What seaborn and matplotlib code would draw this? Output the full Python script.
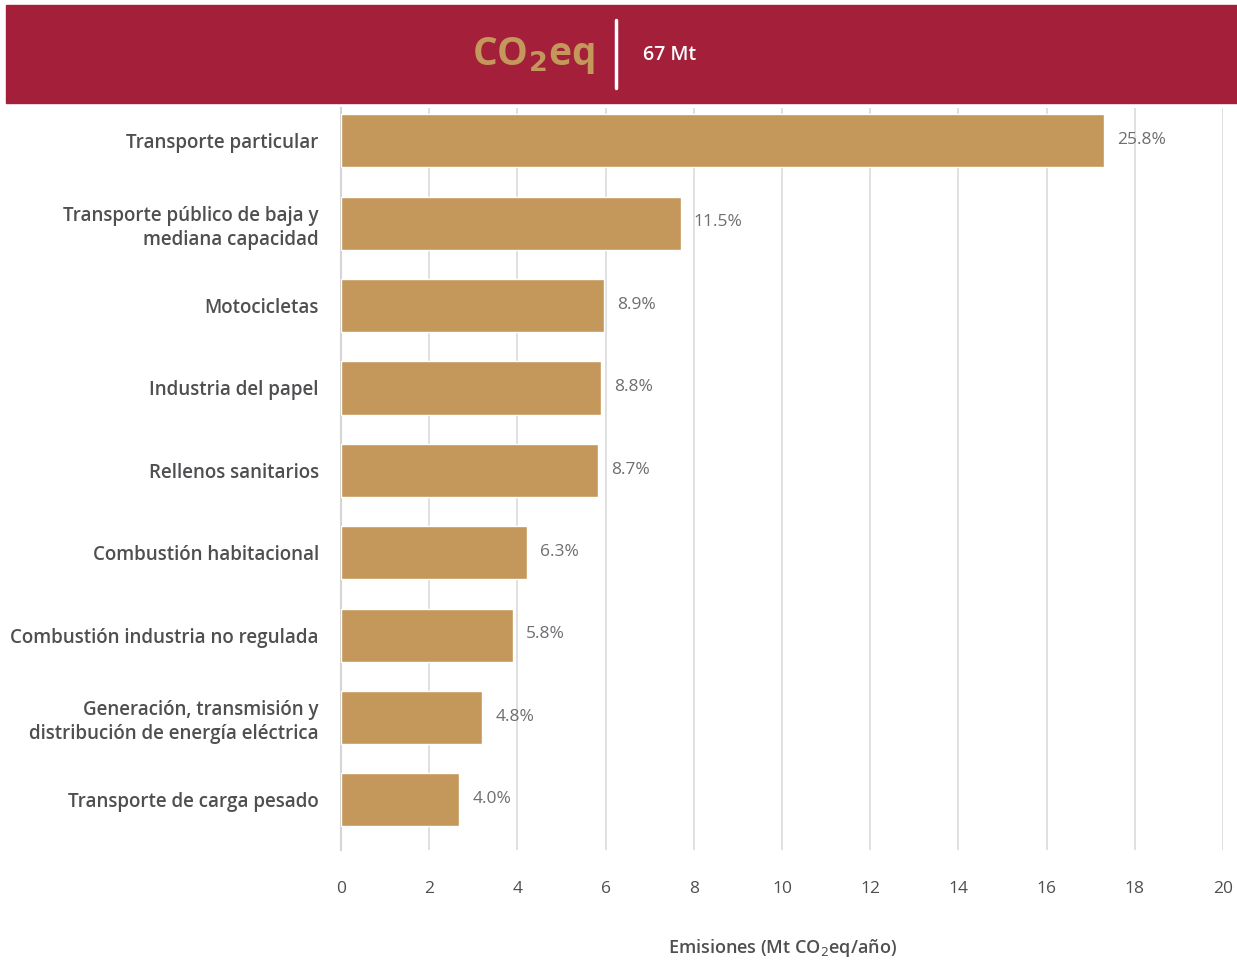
import matplotlib
matplotlib.use("Agg")
import matplotlib.pyplot as plt
from matplotlib.patches import Rectangle
from matplotlib.lines import Line2D
import pandas as pd
import seaborn as sns

# Emission sources (labels as drawn on the y axis)
categories = [
    "Transporte particular",
    "Transporte público de baja y\nmediana capacidad",
    "Motocicletas",
    "Industria del papel",
    "Rellenos sanitarios",
    "Combustión habitacional",
    "Combustión industria no regulada",
    "Generación, transmisión y\ndistribución de energía eléctrica",
    "Transporte de carga pesado",
]
# Emissions in Mt CO2eq/año
emissions = [17.3, 7.7, 5.96, 5.9, 5.83, 4.22, 3.89, 3.2, 2.68]
# Share of the 67 Mt total
shares = ["25.8%", "11.5%", "8.9%", "8.8%", "8.7%", "6.3%", "5.8%", "4.8%", "4.0%"]
x_ticks = [0, 2, 4, 6, 8, 10, 12, 14, 16, 18, 20]
total_label = "67 Mt"

BAR = "#C4975A"
RED = "#A31F3A"
TXT = "#4F4F52"
PCT = "#6E6E72"

sns.set_theme(style="white")
plt.rcParams["font.family"] = ["Open Sans", "DejaVu Sans"]

df = pd.DataFrame({"fuente": categories, "emisiones": emissions})

fig = plt.figure(figsize=(12.37, 9.6), dpi=100)
ax = fig.add_axes([341 / 1237, 1 - 850 / 960, (1223 - 341) / 1237, (850 - 108) / 960])

sns.barplot(data=df, x="emisiones", y="fuente", orient="h", color=BAR,
            saturation=1, width=0.645, ax=ax, zorder=3)

ax.set_xlim(0, 20)
ax.set_ylim(8.61, -0.4)
ax.set_xticks(x_ticks)
ax.set_xticklabels([str(t) for t in x_ticks], fontsize=12.5, color=TXT)
ax.tick_params(axis="x", length=0, pad=22)
ax.tick_params(axis="y", length=0, pad=16)
for lbl in ax.get_yticklabels():
    lbl.set_fontsize(13.5)
    lbl.set_color(TXT)
    lbl.set_fontweight("semibold")
    lbl.set_horizontalalignment("right")
    lbl.set_multialignment("right")
    lbl.set_linespacing(1.3)

ax.grid(axis="x", color="#DADADA", linewidth=1.2, zorder=0)
ax.grid(axis="y", visible=False)
for side in ["top", "right", "bottom"]:
    ax.spines[side].set_visible(False)
ax.spines["left"].set_color("#D5D5D5")
ax.spines["left"].set_linewidth(1.5)

ax.set_ylabel("")
ax.set_xlabel("Emisiones (Mt CO$_2$eq/año)", fontsize=13, color=TXT,
              fontweight="semibold", labelpad=29)

for i, (v, s) in enumerate(zip(emissions, shares)):
    ax.text(v + 0.3, i - 0.01, s, va="center", ha="left", fontsize=12.5,
            color=PCT, zorder=4)

# Header band
fig.add_artist(Rectangle((6 / 1237, 1 - 103 / 960), 1 - 6 / 1237, 98 / 960,
                         transform=fig.transFigure, color=RED, zorder=0))
fig.text(595 / 1237, 1 - 56 / 960, "CO$_\\mathbf{2}$eq", ha="right", va="center",
         fontsize=28, fontweight="bold", color=BAR)
fig.add_artist(Line2D([616 / 1237, 616 / 1237], [1 - 20 / 960, 1 - 88 / 960],
                      transform=fig.transFigure, color="white", linewidth=2.5))
fig.text(643 / 1237, 1 - 55 / 960, total_label, ha="left", va="center",
         fontsize=14, fontweight="semibold", color="white")

fig.savefig("out.png", dpi=100, facecolor="white")
